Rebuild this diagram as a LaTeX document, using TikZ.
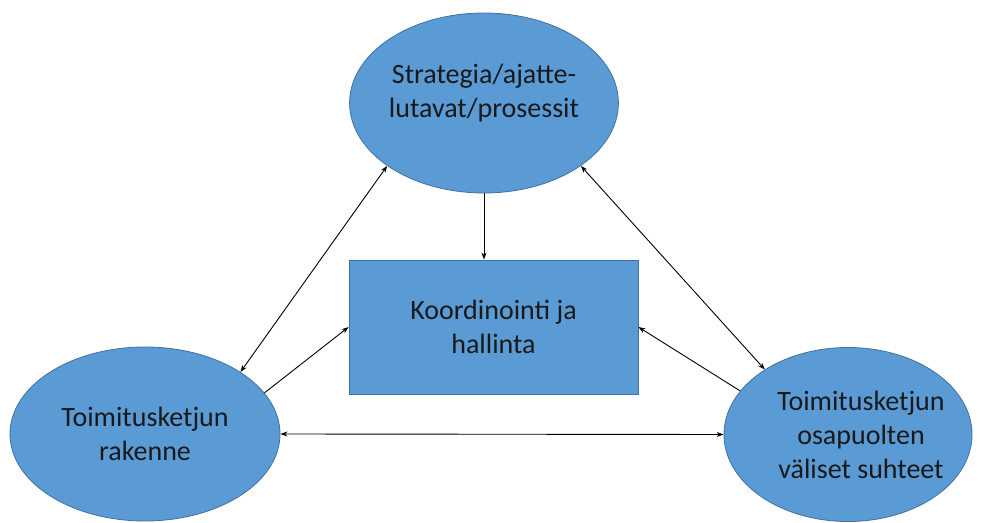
\documentclass[tikz,border=0pt]{standalone}
\usepackage{fontspec}
\setmainfont{Carlito}
\usepackage{tikz}
\usetikzlibrary{shapes.geometric, arrows.meta, positioning}

\definecolor{boxblue}{HTML}{5B9BD5}
\definecolor{boxedge}{HTML}{41719C}

\begin{document}
\begin{tikzpicture}[
  x=1pt, y=1pt,
  font=\fontsize{28}{34}\selectfont,
  oval/.style={
    ellipse, draw=boxedge, line width=0.8pt, fill=boxblue,
    inner sep=0pt, align=center, text=black!90
  },
  panel/.style={
    rectangle, draw=boxedge, line width=0.8pt, fill=boxblue,
    minimum width=289pt, minimum height=134pt, align=center, text=black!90
  },
  link/.style={line width=0.9pt, -{Stealth[length=7pt,width=5pt]}},
  twoway/.style={line width=0.9pt, {Stealth[length=7pt,width=5pt]}-{Stealth[length=7pt,width=5pt]}}
]
\useasboundingbox (0,0) rectangle (982,522);

% Main nodes
\node[oval, minimum width=268pt, minimum height=180pt, text depth=24pt] (strat) at (484,419) {Strategia/ajatte-\\lutavat/prosessit};
\node[panel] (coord) at (493.5,195) {Koordinointi ja\\hallinta};
\node[oval, minimum width=270pt, minimum height=174pt] (struct) at (145,88) {Toimitusketjun\\rakenne};
\node[oval, minimum width=248pt, minimum height=174pt, inner xsep=-10pt] (rel) at (848,87.5) {\hspace*{26pt}Toimitusketjun\\\hspace*{26pt}osapuolten\\\hspace*{26pt}väliset suhteet};

% Arrows into the box
\draw[link] (strat.south) -- (strat.south |- coord.north);
\draw[link] (struct.19) -- (coord.west);
\draw[link] (rel.158) -- (coord.east);

% Two-way links
\draw[twoway] (struct.33) -- (strat.213);
\draw[twoway] (strat.327) -- (rel.142);
\draw[twoway] (struct.east) -- (rel.west);

\end{tikzpicture}
\end{document}
